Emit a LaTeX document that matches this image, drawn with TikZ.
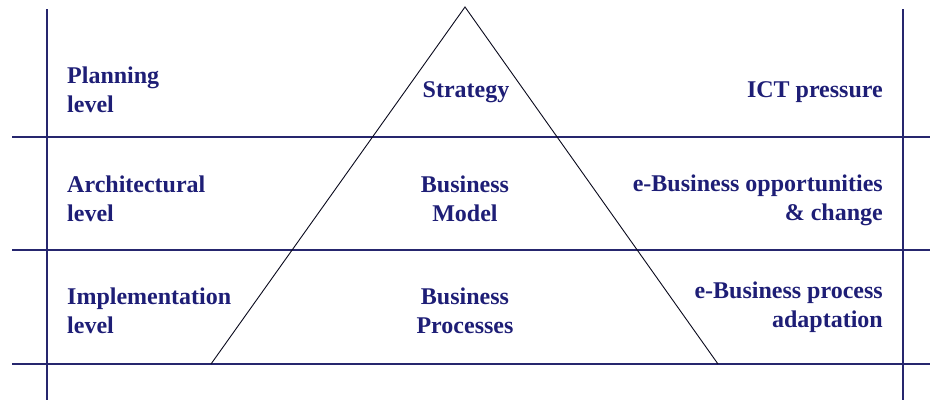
\documentclass[tikz,border=0pt]{standalone}
\usepackage{fontspec}
\setmainfont{Liberation Serif}
\definecolor{navy}{HTML}{26266E}
\definecolor{txtnavy}{HTML}{1E1E76}
\tikzset{
  rule/.style={navy, line width=1.5pt},
  tri/.style={black!75!navy, line width=0.9pt, line join=miter},
  lbl/.style={font=\fontsize{24}{29}\selectfont\bfseries, text=txtnavy, inner sep=0pt},
}
\begin{document}
\begin{tikzpicture}[x=1pt,y=-1pt]
\useasboundingbox (0,0) rectangle (930,400);
% frame lines
\coordinate (h1l) at (12,137); \coordinate (h1r) at (930,137);
\coordinate (h2l) at (12,250); \coordinate (h2r) at (930,250);
\coordinate (h3l) at (12,364); \coordinate (h3r) at (930,364);
\coordinate (vlt) at (47,9);   \coordinate (vlb) at (47,400);
\coordinate (vrt) at (903,9);  \coordinate (vrb) at (903,400);
\draw[rule] (h1l) -- (h1r);
\draw[rule] (h2l) -- (h2r);
\draw[rule] (h3l) -- (h3r);
\draw[rule] (vlt) -- (vlb);
\draw[rule] (vrt) -- (vrb);
% triangle
\coordinate (apex) at (465,7);
\coordinate (bl) at (211,364);
\coordinate (br) at (718,364);
\draw[tri] (bl) -- (apex) -- (br);
% left labels (base anchor = last line baseline)
\node[lbl, anchor=base west, align=left] (plan) at (67,112) {Planning\\level};
\node[lbl, anchor=base west, align=left] (arch) at (67,221) {Architectural\\level};
\node[lbl, anchor=base west, align=left] (impl) at (67,333) {Implementation\\level};
% centre labels
\node[lbl, anchor=base] (strat) at (466,97) {Strategy};
\node[lbl, anchor=base, align=center] (bm) at (465,221) {Business\\Model};
\node[lbl, anchor=base, align=center] (bp) at (465,333) {Business\\Processes};
% right labels
\node[lbl, anchor=base east] (ict) at (883,97) {ICT pressure};
\node[lbl, anchor=base east, align=right] (opp) at (883,220) {e-Business opportunities\\\& change};
\node[lbl, anchor=base east, align=right] (adapt) at (883,327) {e-Business process\\adaptation};
\end{tikzpicture}
\end{document}
